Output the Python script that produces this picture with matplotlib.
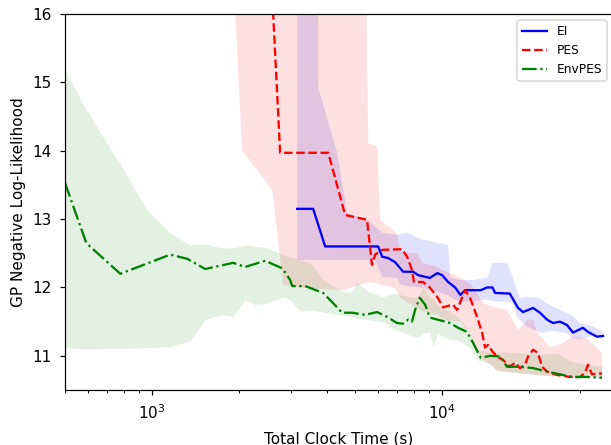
import numpy as np
import matplotlib
matplotlib.use("Agg")
import matplotlib.pyplot as plt

# ---------------- data ----------------
# EI (blue, solid)
ei_x = [3162, 3590, 3950, 6016, 6212, 6514, 6885, 7338, 7943, 8270, 9070, 9630, 10000,
        10490, 11090, 11570, 12000, 13600, 14300, 14930, 15230, 17120, 18290, 19020,
        20600, 21770, 23020, 24140, 25520, 26980, 28290, 30630, 31870, 34230, 35920]
ei_y = [13.15, 13.15, 12.6, 12.6, 12.45, 12.43, 12.37, 12.23, 12.23, 12.18, 12.14, 12.21,
        12.18, 12.08, 12.0, 11.89, 11.96, 11.96, 12.0, 12.0, 11.92, 11.91, 11.70, 11.64,
        11.70, 11.63, 11.53, 11.48, 11.50, 11.45, 11.34, 11.41, 11.35, 11.28, 11.29]
ei_band_x = [3162, 3707, 3737, 4343, 4704, 5510, 5875, 6212, 6990, 7160, 7574, 8531, 9070,
             9700, 10490, 10670, 11570, 12790, 14300, 14930, 16750, 17430, 18140, 18560,
             19640, 21270, 21770, 24140, 26980, 28290, 29910, 33160, 35920]
ei_lo = [12.4, 12.4, 12.4, 12.4, 12.4, 12.4, 12.4, 12.15, 12.14, 12.04, 12.02, 12.0, 11.96,
         11.93, 11.88, 11.86, 11.79, 11.80, 11.82, 11.80, 11.79, 11.79, 11.57, 11.52,
         11.43, 11.36, 11.34, 11.36, 11.33, 11.26, 11.24, 11.30, 11.28]
ei_hi = [20.0, 20.0, 14.93, 13.97, 13.09, 12.99, 12.9, 12.8, 12.77, 12.78, 12.8, 12.7, 12.68,
         12.65, 12.62, 12.15, 12.11, 12.11, 12.14, 12.36, 12.36, 12.18, 11.95, 11.85,
         11.86, 11.85, 11.83, 11.72, 11.63, 11.58, 11.48, 11.43, 11.35]

# PES (red, dashed)
pes_x = [1920, 2762, 4048, 4630, 5510, 5730, 5875, 6212, 7280, 7574, 7870, 8000, 8600,
         9070, 9630, 10080, 10910, 11270, 11720, 12000, 12490, 13200, 13740, 14070,
         14410, 14930, 15490, 16230, 17120, 17860, 18560, 19330, 19800, 20600, 21430,
         22130, 23020, 24930, 27640, 29910, 31120, 31870, 32900, 34230, 35630]
pes_y = [27.3, 13.97, 13.97, 13.06, 12.99, 12.33, 12.48, 12.55, 12.56, 12.45, 12.26, 12.08,
         12.08, 12.0, 11.86, 11.71, 11.75, 11.67, 11.85, 11.96, 11.85, 11.57, 11.34, 11.12,
         11.16, 11.06, 10.99, 10.94, 10.84, 10.90, 10.82, 10.87, 10.99, 11.09, 11.04,
         10.84, 10.77, 10.72, 10.69, 10.69, 10.75, 10.87, 10.73, 10.74, 10.74]
pes_band_x = [1920, 2042, 2593, 2830, 3238, 4557, 5341, 5560, 5970, 6113, 6776, 6990, 7160,
              8200, 8531, 9630, 10080, 11570, 12000, 12490, 12790, 13850, 15000, 15490,
              16750, 18290, 19800, 20600, 21270, 23570, 26140, 28290, 31620, 35630]
pes_lo = [16.3, 14.0, 13.43, 12.04, 12.0, 11.96, 12.05, 12.08, 12.06, 12.04, 12.0, 11.95,
          11.85, 11.7, 11.65, 11.6, 11.53, 11.5, 11.4, 11.34, 11.2, 10.94, 10.85, 10.77,
          10.76, 10.75, 10.74, 10.73, 10.72, 10.70, 10.70, 10.70, 10.70, 10.70]
pes_hi = [20.0, 20.0, 20.0, 20.0, 20.0, 20.0, 20.0, 14.11, 14.06, 12.99, 12.84, 12.77,
          12.52, 12.5, 12.36, 12.3, 12.25, 12.15, 12.1, 12.05, 12.0, 11.77, 11.72, 11.70,
          11.67, 11.38, 11.53, 11.53, 11.34, 11.12, 11.19, 11.28, 11.26, 11.04]

# EnvPES (green, dash-dot)
env_x = [500, 592, 776, 1153, 1320, 1523, 1902, 2092, 2452, 2808, 2991, 3041, 3372, 3887,
         4210, 4520, 4895, 5427, 5970, 6463, 6990, 7338, 7635, 7870, 8071, 8370, 8738,
         9070, 9630, 10670, 11350, 12190, 12790, 13600, 14640, 15850, 16750, 18560,
         20600, 23020, 26140, 28290, 31620, 35630]
env_y = [13.53, 12.65, 12.20, 12.48, 12.42, 12.27, 12.36, 12.30, 12.39, 12.28, 12.11, 12.02,
         12.02, 11.92, 11.77, 11.63, 11.63, 11.60, 11.64, 11.57, 11.48, 11.47, 11.53,
         11.50, 11.67, 11.85, 11.75, 11.56, 11.53, 11.48, 11.41, 11.35, 11.19, 10.97,
         11.0, 10.99, 10.84, 10.84, 10.82, 10.77, 10.72, 10.69, 10.69, 10.68]
env_band_x = [500, 592, 776, 961, 1153, 1352, 1523, 1716, 1902, 2092, 2265, 2492, 2830,
              2991, 3238, 3507, 3887, 4450, 4818, 5093, 5510, 6262, 6776, 7758, 8200,
              8600, 9070, 9311, 9630, 10400, 11350, 12490, 13290, 14640, 15230, 19020,
              21770, 24930, 26980, 28290, 35630]
env_lo = [11.12, 11.10, 11.11, 11.12, 11.13, 11.22, 11.53, 11.60, 11.58, 11.82, 11.75,
          11.77, 11.86, 11.82, 11.65, 11.67, 11.64, 11.60, 11.58, 11.55, 11.53, 11.50,
          11.40, 11.30, 11.27, 11.33, 11.35, 11.12, 11.33, 11.25, 11.23, 11.12, 10.94,
          10.88, 10.80, 10.74, 10.72, 10.71, 10.70, 10.69, 10.68]
env_hi = [15.18, 14.6, 13.8, 13.13, 12.80, 12.62, 12.64, 12.58, 12.58, 12.62, 12.60, 12.58,
          12.48, 12.45, 12.40, 12.36, 12.12, 11.96, 11.93, 12.07, 11.95, 11.86, 11.92,
          11.86, 11.85, 12.0, 11.85, 11.85, 11.75, 11.67, 11.57, 11.34, 11.09, 11.06,
          11.06, 11.04, 11.02, 11.04, 10.95, 10.91, 10.84]

labels = ["EI", "PES", "EnvPES"]

# ---------------- plot ----------------
W, H = 611, 445
DPI = 110
fig = plt.figure(figsize=(W / DPI, H / DPI), dpi=DPI)
ax = fig.add_axes([65 / W, (H - 390) / H, (613 - 65) / W, (390 - 14) / H])

ax.fill_between(ei_band_x, ei_lo, ei_hi, color="b", alpha=0.12, linewidth=0)
ax.fill_between(pes_band_x, pes_lo, pes_hi, color="r", alpha=0.12, linewidth=0)
ax.fill_between(env_band_x, env_lo, env_hi, color="g", alpha=0.11, linewidth=0)

ax.plot(ei_x, ei_y, color="b", linestyle="-", linewidth=1.5, label=labels[0])
ax.plot(pes_x, pes_y, color="r", linestyle="--", linewidth=1.5, label=labels[1])
ax.plot(env_x, env_y, color="g", linestyle="-.", linewidth=1.5, label=labels[2])

ax.set_xscale("log")
ax.set_xlim(500, 38880)
ax.set_ylim(10.5, 16)
ax.set_yticks([11, 12, 13, 14, 15, 16])
ax.tick_params(which="major", labelsize=10, pad=5.5)
ax.set_xlabel("Total Clock Time (s)", fontsize=10, labelpad=6)
ax.set_ylabel("GP Negative Log-Likelihood", fontsize=10)
ax.legend(loc="upper right", fontsize=8)

fig.savefig("out.png", dpi=DPI)
